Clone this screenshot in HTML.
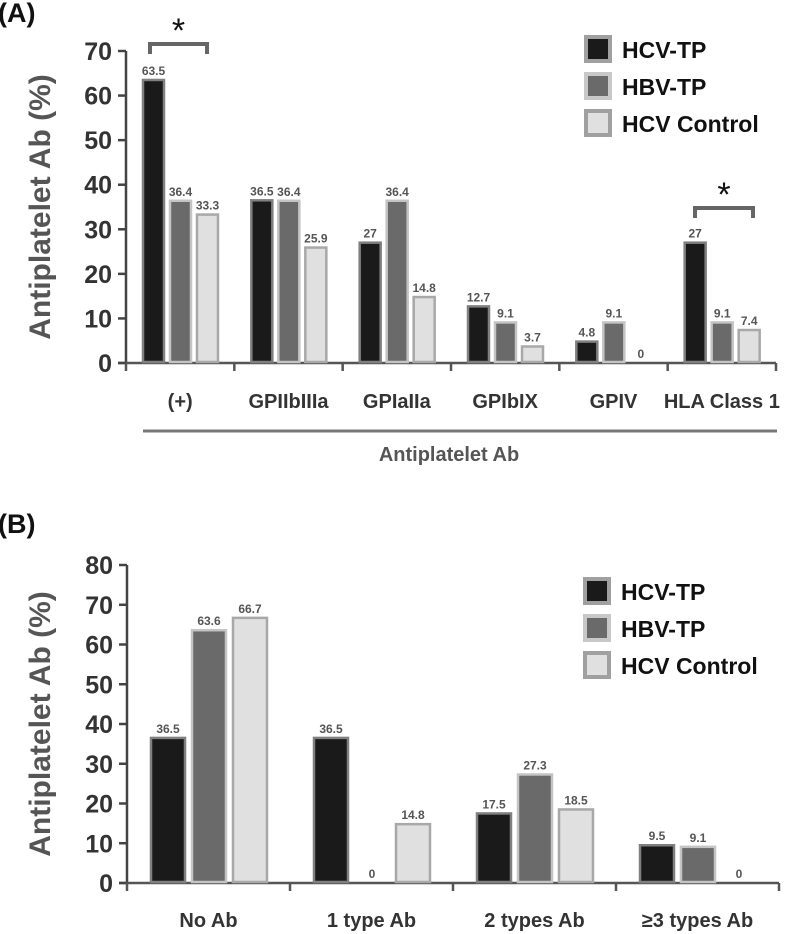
<!DOCTYPE html>
<html><head><meta charset="utf-8"><style>
body{margin:0;background:#fff;}
svg{display:block;font-family:"Liberation Sans",sans-serif;}
</style></head><body>
<svg id="s" width="787" height="934"></svg>
<script>
const seriesNames=["HCV-TP","HBV-TP","HCV Control"];
const catsA=["(+)","GPIIbIIIa","GPIaIIa","GPIbIX","GPIV","HLA Class 1"];
const hcvA=[63.5,36.5,27,12.7,4.8,27];
const hbvA=[36.4,36.4,36.4,9.1,9.1,9.1];
const ctlA=[33.3,25.9,14.8,3.7,0,7.4];
const ticksA=[0,10,20,30,40,50,60,70];
const catsB=["No Ab","1 type Ab","2 types Ab","≥3 types Ab"];
const hcvB=[36.5,36.5,17.5,9.5];
const hbvB=[63.6,0,27.3,9.1];
const ctlB=[66.7,14.8,18.5,0];
const ticksB=[0,10,20,30,40,50,60,70,80];

const NS="http://www.w3.org/2000/svg";
const svg=document.getElementById('s');
function mk(t,a,p){const e=document.createElementNS(NS,t);for(const k in a)e.setAttribute(k,a[k]);(p||svg).appendChild(e);return e;}
const fills=["#1a1a1a","#6a6a6a","#e0e0e0"],strokes=["#808080","#c4c4c4","#a8a8a8"];

function chart(o){
  const g=mk('g',{});
  
  
  const y=v=>o.y0-(v/o.max)*(o.y0-o.yTop);
  const n=o.cats.length, gw=(o.x1-o.x0)/n;
  const ax=mk('line',{x1:o.x0,y1:o.yTop,x2:o.x0,y2:o.y0+1,stroke:'#444','stroke-width':2.5},g);
  
  const xa=mk('line',{x1:o.x0-8,y1:o.y0,x2:o.x1,y2:o.y0,stroke:'#555','stroke-width':2.5},g);
  
  o.ticks.forEach(t=>{
    mk('line',{x1:o.x0-8,y1:y(t),x2:o.x0,y2:y(t),stroke:'#444','stroke-width':2.5},g);
    const tl=mk('text',{x:o.x0-14,y:y(t)+9,'text-anchor':'end','font-size':25,'font-weight':'bold',fill:'#333'},g);
    tl.textContent=t;
    
  });
  for(let i=0;i<=n;i++){const xx=o.x0+i*gw;mk('line',{x1:xx,y1:o.y0,x2:xx,y2:o.y0+8,stroke:'#555','stroke-width':2.5},g);}
  const series=[o.a,o.b,o.c];
  o.cats.forEach((c,i)=>{
    const gx=o.x0+i*gw;
    series.forEach((s,j)=>{
      const v=s[i], bx=gx+o.off+j*o.step;
      if(v>0){
        const r=mk('rect',{x:bx+1,y:y(v),width:o.bw-2,height:o.y0-y(v)-1,fill:fills[j],stroke:strokes[j],'stroke-width':2.5},g);
        
        
      }
      const vl=mk('text',{x:bx+o.bw/2,y:y(v)-5,'text-anchor':'middle','font-size':o.vfs,'font-weight':'bold',fill:'#555'},g);
      vl.textContent=v;
      
    });
    const cl=mk('text',{x:gx+gw/2,y:o.y0+o.cdy,'text-anchor':'middle','font-size':o.cfs,'font-weight':'bold',fill:'#333'},g);
    cl.textContent=c;
    
  });
  const yt=mk('text',{transform:`translate(${o.ytx},${(o.y0+o.yTop)/2}) rotate(-90)`,'text-anchor':'middle','font-size':30,'font-weight':'bold',fill:'#555'},g);
  yt.textContent='Antiplatelet Ab (%)';
  
  const pl=mk('text',{x:-2,y:o.panelY,'font-size':27,'font-weight':'bold',fill:'#111'},g);
  pl.textContent=o.panel;
  
  seriesNames.forEach((s,j)=>{
    const ly=o.legY+j*o.legStep;
    const lb=mk('rect',{x:o.legX+2,y:ly+2,width:24,height:24,fill:fills[j],stroke:j==1?'#c8c8c8':'#a0a0a0','stroke-width':4},g);
    
    const lt=mk('text',{x:o.legX+38,y:ly+23,'font-size':23,'font-weight':'bold',fill:'#111'},g);
    lt.textContent=s;
    
  });
  return {y,gw};
}
chart({name:'chart-a',x0:126,x1:776,y0:363,yTop:51,max:70,ticks:ticksA,cats:catsA,a:hcvA,b:hbvA,c:ctlA,off:16,step:27,bw:23,vfs:12,cfs:20,cdy:45,ytx:50,panel:'(A)',panelY:22,legX:584,legY:35,legStep:37});
chart({name:'chart-b',x0:127,x1:779,y0:883,yTop:565,max:80,ticks:ticksB,cats:catsB,a:hcvB,b:hbvB,c:ctlB,off:23,step:41,bw:36,vfs:12,cfs:20,cdy:44,ytx:50,panel:'(B)',panelY:533,legX:583,legY:577,legStep:37});
let l=mk('line',{x1:143,y1:431,x2:777,y2:431,stroke:'#777','stroke-width':3});

let t=mk('text',{x:449,y:461,'text-anchor':'middle','font-size':20,'font-weight':'bold',fill:'#555'});
t.textContent='Antiplatelet Ab';

function bracket(x1,x2,yb,name){
  const p=mk('path',{d:`M${x1},${yb+10}V${yb}H${x2}V${yb+10}`,fill:'none',stroke:'#666','stroke-width':4});
  
  const s=mk('text',{x:(x1+x2)/2,y:yb-2,'text-anchor':'middle','font-size':34,fill:'#111'});
  s.textContent='*';
  
}
bracket(150,207,44,'significance-bracket-positive');
bracket(695,753,208,'significance-bracket-hla');
</script>
</body></html>
